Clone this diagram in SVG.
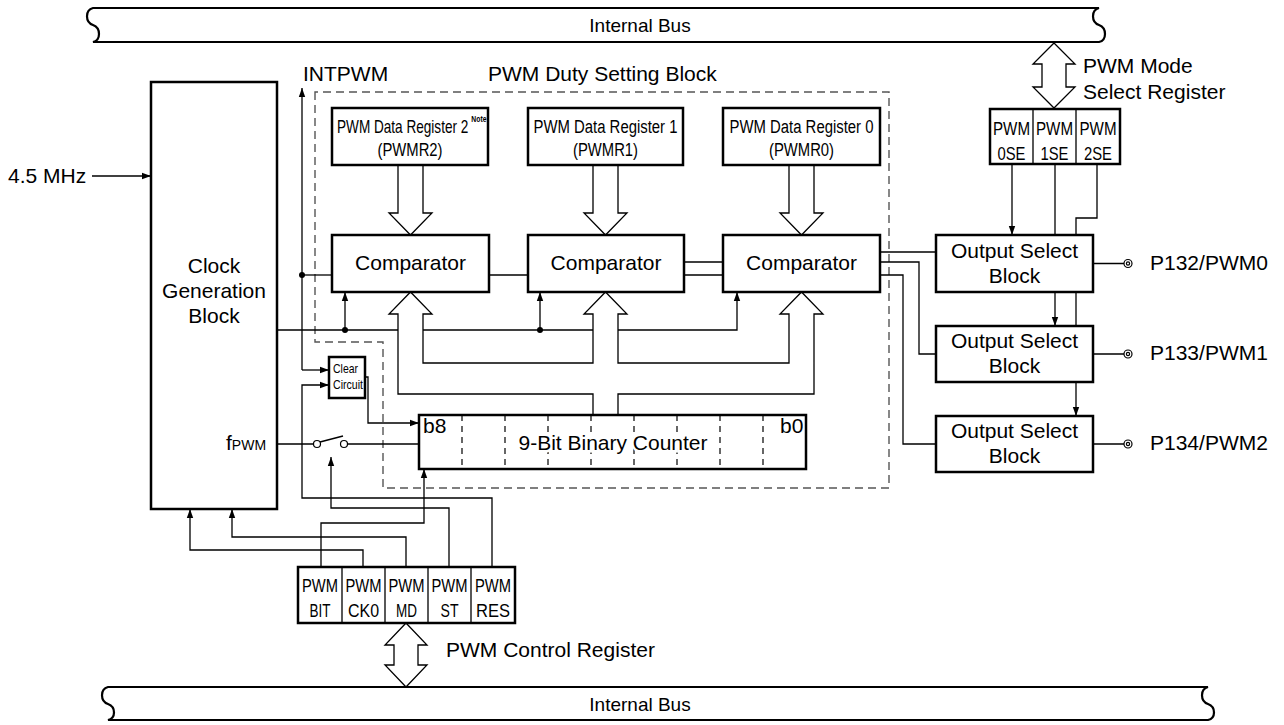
<svg xmlns="http://www.w3.org/2000/svg" width="1284" height="725" viewBox="0 0 1284 725">
<style>
.box{fill:#fff;stroke:#000;stroke-width:2.5}
.ln{fill:none;stroke:#000;stroke-width:1.3}
.hol{fill:#fff;stroke:#000;stroke-width:1.3}
.bus{fill:#fff;stroke:#000;stroke-width:2.2}
.dash{fill:none;stroke:#555;stroke-width:1.4;stroke-dasharray:8 5}
.div{fill:none;stroke:#000;stroke-width:1.2;stroke-dasharray:6 5}
.t{font-family:"Liberation Sans",Arial,sans-serif;font-size:21px;fill:#000}
.m{text-anchor:middle}
.n{font-size:18px}
.r{font-size:19px}
.dot{fill:#000}
.pin{fill:#fff;stroke:#000;stroke-width:1.2}
</style>
<defs>
<marker id="ah" markerUnits="userSpaceOnUse" markerWidth="10" markerHeight="8" refX="9" refY="4" orient="auto">
<path d="M0,0.8 L9,4 L0,7.2 z" fill="#000"/>
</marker>
</defs>

<g id="top-bus">
<path class="bus" d="M93,8 H1099 C1091,10 1091,22 1099,25 C1107,28 1107,40 1099,42 H93 C101,40 101,28 93,25 C85,22 85,10 93,8 Z"/>
<text class="t m" x="640" y="32" style="font-size:19px">Internal Bus</text>
</g>
<g id="bottom-bus">
<path class="bus" d="M108,687 H1208 C1200,689 1200,701 1208,704 C1216,707 1216,718 1208,720 H108 C116,718 116,707 108,704 C100,701 100,689 108,687 Z"/>
<text class="t m" x="640" y="711" style="font-size:19px">Internal Bus</text>
</g>

<g id="duty-block">
<path class="dash" d="M315,92 V342 H383 V488 H889 V92 Z"/>
<text class="t" x="488" y="81">PWM Duty Setting Block</text>
</g>

<g id="connectors">
<path class="ln" d="M92,176 H151" marker-end="url(#ah)"/>
<path class="ln" d="M302,370 V88" marker-end="url(#ah)"/>
<path class="ln" d="M302,370 H329" marker-end="url(#ah)"/>
<path class="ln" d="M302,275 H332"/>
<circle class="dot" cx="302" cy="275" r="3"/>
<path class="ln" d="M277,330 H737 V292" marker-end="url(#ah)"/>
<path class="ln" d="M345,330 V292" marker-end="url(#ah)"/>
<path class="ln" d="M540,330 V292" marker-end="url(#ah)"/>
<circle class="dot" cx="345" cy="330" r="3"/>
<circle class="dot" cx="540" cy="330" r="3"/>
<path class="ln" d="M489,275 H528"/>
<path class="ln" d="M684,262 H723 M684,275 H723"/>
<path class="ln" d="M880,252 H936"/>
<path class="ln" d="M880,262 H919 V354 H936"/>
<path class="ln" d="M880,275 H903 V444 H936"/>
<path class="ln" d="M1012,164 V235" marker-end="url(#ah)"/>
<path class="ln" d="M1055,164 V235"/>
<path class="ln" d="M1097,164 V218 H1076 V235"/>
<path class="ln" d="M1055,292 V326" marker-end="url(#ah)"/>
<path class="ln" d="M1076,292 V326"/>
<path class="ln" d="M1076,382 V416" marker-end="url(#ah)"/>
<path class="ln" d="M1093,263.5 H1124 M1093,354 H1124 M1093,444 H1124"/>
<path class="ln" d="M365,377 H368 V423 H419" marker-end="url(#ah)"/>
<path class="ln" d="M277,444 H313.5 M347.5,444 H419"/>
<path class="ln" d="M320,442 L343,436"/>
<path class="ln" d="M449,567 V508 H331 V457" marker-end="url(#ah)"/>
<path class="ln" d="M492,567 V498 H302 V385 H329" marker-end="url(#ah)"/>
<path class="ln" d="M321,567 V523 H424 V469" marker-end="url(#ah)"/>
<path class="ln" d="M406,567 V537 H232 V509" marker-end="url(#ah)"/>
<path class="ln" d="M363,567 V550 H190 V509" marker-end="url(#ah)"/>
<circle class="pin" cx="317" cy="444" r="3.5"/>
<circle class="pin" cx="344" cy="444" r="3.5"/>
<polygon class="hol" points="398,165 398,213 389,213 410.5,235 432,213 423,213 423,165"/>
<polygon class="hol" points="593,165 593,213 584,213 605.5,235 627,213 618,213 618,165"/>
<polygon class="hol" points="789,165 789,213 780,213 801.5,235 823,213 814,213 814,165"/>
<polygon class="hol" points="593,415 593,394 398,394 398,314 389,314 410.5,292 432,314 423,314 423,363 593,363 593,314 584,314 605.5,292 627,314 618,314 618,363 789,363 789,314 780,314 801.5,292 823,314 814,314 814,394 618,394 618,415"/>
<polygon class="hol" points="1054,43 1075,64 1066,64 1066,87 1075,87 1054,108 1033,87 1042,87 1042,64 1033,64"/>
<polygon class="hol" points="406,623 427,645 418,645 418,665 427,665 406,687 385,665 394,665 394,645 385,645"/>
</g>

<g id="label-45mhz"><text class="t" x="8" y="183">4.5 MHz</text></g>
<g id="label-intpwm"><text class="t" x="303" y="81">INTPWM</text></g>

<g id="clock-gen">
<rect class="box" x="151" y="82" width="126" height="427"/>
<text class="t m" x="214" y="273">Clock</text>
<text class="t m" x="214" y="298">Generation</text>
<text class="t m" x="214" y="323">Block</text>
<text class="t" x="226" y="450">f<tspan style="font-size:14px">PWM</tspan></text>
</g>

<g id="pwmr2">
<rect class="box" x="332" y="108" width="156" height="57"/>
<text class="t n" transform="translate(337,133) scale(0.755,1)">PWM Data Register 2<tspan dx="4" dy="-11" style="font-size:9px;font-weight:bold">Note</tspan></text>
<text class="t n m" x="410" y="156" textLength="65" lengthAdjust="spacingAndGlyphs">(PWMR2)</text>
</g>
<g id="pwmr1">
<rect class="box" x="528" y="108" width="155" height="57"/>
<text class="t n m" x="605.5" y="133" textLength="144" lengthAdjust="spacingAndGlyphs">PWM Data Register 1</text>
<text class="t n m" x="605.5" y="156" textLength="65" lengthAdjust="spacingAndGlyphs">(PWMR1)</text>
</g>
<g id="pwmr0">
<rect class="box" x="723" y="108" width="157" height="57"/>
<text class="t n m" x="801.5" y="133" textLength="144" lengthAdjust="spacingAndGlyphs">PWM Data Register 0</text>
<text class="t n m" x="801.5" y="156" textLength="65" lengthAdjust="spacingAndGlyphs">(PWMR0)</text>
</g>

<g id="comparator1">
<rect class="box" x="332" y="235" width="157" height="57"/>
<text class="t m" x="410.5" y="270">Comparator</text>
</g>
<g id="comparator2">
<rect class="box" x="528" y="235" width="156" height="57"/>
<text class="t m" x="606" y="270">Comparator</text>
</g>
<g id="comparator3">
<rect class="box" x="723" y="235" width="157" height="57"/>
<text class="t m" x="801.5" y="270">Comparator</text>
</g>

<g id="clear-circuit">
<rect class="box" x="329" y="357" width="36" height="41"/>
<text class="t" x="333" y="373" style="font-size:13px" textLength="25" lengthAdjust="spacingAndGlyphs">Clear</text>
<text class="t" x="333" y="389" style="font-size:13px" textLength="30" lengthAdjust="spacingAndGlyphs">Circuit</text>
</g>

<g id="counter">
<rect class="box" x="419" y="415" width="387" height="54"/>
<path class="div" d="M462,415 V469 M505,415 V469 M548,415 V469 M591,415 V469 M634,415 V469 M677,415 V469 M720,415 V469 M763,415 V469"/>
<text class="t" x="423" y="433">b8</text>
<text class="t" x="780" y="433">b0</text>
<text class="t m" x="613" y="450" style="stroke:#fff;stroke-width:5;paint-order:stroke">9-Bit Binary Counter</text>
</g>

<g id="mode-select-register">
<rect class="box" x="990" y="109" width="130" height="55"/>
<path class="ln" d="M1033,109 V164 M1076,109 V164"/>
<text class="t r m" x="1011.5" y="135" textLength="37" lengthAdjust="spacingAndGlyphs">PWM</text>
<text class="t r m" x="1011.5" y="160" textLength="28" lengthAdjust="spacingAndGlyphs">0SE</text>
<text class="t r m" x="1054.5" y="135" textLength="37" lengthAdjust="spacingAndGlyphs">PWM</text>
<text class="t r m" x="1054.5" y="160" textLength="28" lengthAdjust="spacingAndGlyphs">1SE</text>
<text class="t r m" x="1098" y="135" textLength="37" lengthAdjust="spacingAndGlyphs">PWM</text>
<text class="t r m" x="1098" y="160" textLength="28" lengthAdjust="spacingAndGlyphs">2SE</text>
<text class="t" x="1083" y="73">PWM Mode</text>
<text class="t" x="1083" y="99">Select Register</text>
</g>

<g id="output-select-0">
<rect class="box" x="936" y="235" width="157" height="57"/>
<text class="t m" x="1014.5" y="258">Output Select</text>
<text class="t m" x="1014.5" y="283">Block</text>
</g>
<g id="output-select-1">
<rect class="box" x="936" y="326" width="157" height="56"/>
<text class="t m" x="1014.5" y="348">Output Select</text>
<text class="t m" x="1014.5" y="373">Block</text>
</g>
<g id="output-select-2">
<rect class="box" x="936" y="416" width="157" height="56"/>
<text class="t m" x="1014.5" y="438">Output Select</text>
<text class="t m" x="1014.5" y="463">Block</text>
</g>

<g id="pin-p132">
<circle class="pin" cx="1128" cy="263.5" r="4"/><circle class="pin" cx="1128" cy="263.5" r="1.6"/>
<text class="t" x="1150" y="270">P132/PWM0</text>
</g>
<g id="pin-p133">
<circle class="pin" cx="1128" cy="354" r="4"/><circle class="pin" cx="1128" cy="354" r="1.6"/>
<text class="t" x="1150" y="360">P133/PWM1</text>
</g>
<g id="pin-p134">
<circle class="pin" cx="1128" cy="444" r="4"/><circle class="pin" cx="1128" cy="444" r="1.6"/>
<text class="t" x="1150" y="450">P134/PWM2</text>
</g>

<g id="control-register">
<rect class="box" x="298" y="567" width="217" height="56"/>
<path class="ln" d="M342,567 V623 M385,567 V623 M428,567 V623 M471,567 V623"/>
<text class="t r m" x="320" y="592" textLength="36" lengthAdjust="spacingAndGlyphs">PWM</text>
<text class="t r m" x="320" y="617" textLength="21" lengthAdjust="spacingAndGlyphs">BIT</text>
<text class="t r m" x="363.5" y="592" textLength="36" lengthAdjust="spacingAndGlyphs">PWM</text>
<text class="t r m" x="363.5" y="617" textLength="31" lengthAdjust="spacingAndGlyphs">CK0</text>
<text class="t r m" x="406.5" y="592" textLength="36" lengthAdjust="spacingAndGlyphs">PWM</text>
<text class="t r m" x="406.5" y="617" textLength="21" lengthAdjust="spacingAndGlyphs">MD</text>
<text class="t r m" x="449.5" y="592" textLength="36" lengthAdjust="spacingAndGlyphs">PWM</text>
<text class="t r m" x="449.5" y="617" textLength="18" lengthAdjust="spacingAndGlyphs">ST</text>
<text class="t r m" x="493" y="592" textLength="36" lengthAdjust="spacingAndGlyphs">PWM</text>
<text class="t r m" x="493" y="617" textLength="34" lengthAdjust="spacingAndGlyphs">RES</text>
<text class="t" x="446" y="657">PWM Control Register</text>
</g>
</svg>
